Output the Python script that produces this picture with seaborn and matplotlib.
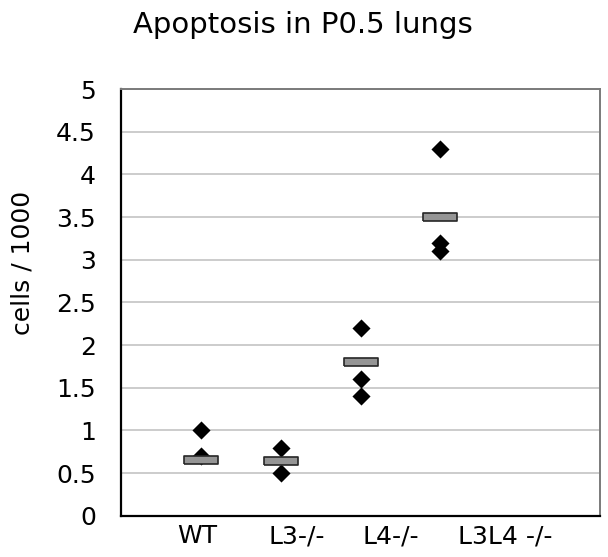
import numpy as np
import pandas as pd
import matplotlib
matplotlib.use("Agg")
import matplotlib.pyplot as plt
import seaborn as sns

# Individual animals (x = group position on the 0..6 axis)
point_x = [1, 1, 2, 2, 3, 3, 3, 4, 4, 4]
point_y = [1.0, 0.7, 0.8, 0.5, 2.2, 1.6, 1.4, 4.3, 3.2, 3.1]

# Group means
mean_x = [1, 2, 3, 4]
mean_y = [0.65, 0.64, 1.8, 3.5]

# Group labels and where they sit along the x axis (text boxes, not centred on data)
group_labels = ["WT", "L3-/-", "L4-/-", "L3L4 -/-"]
label_pos = [0.95, 2.2, 3.38, 4.81]

sns.set_style("white")
plt.rcParams["font.family"] = ["DejaVu Sans"]
plt.rcParams["text.color"] = "black"
plt.rcParams["xtick.labelcolor"] = "black"
plt.rcParams["ytick.labelcolor"] = "black"

fig = plt.figure(figsize=(6.08, 5.57), dpi=100)
ax = fig.add_axes([0.199, 0.074, 0.788, 0.766])

pts = pd.DataFrame({"x": point_x, "y": point_y})
means = pd.DataFrame({"x": mean_x, "y": mean_y})

# mean bars: flat grey rectangles with dark outline
bar_marker = [(-2.3, -0.5), (2.3, -0.5), (2.3, 0.5), (-2.3, 0.5), (-2.3, -0.5)]

sns.scatterplot(data=pts, x="x", y="y", marker="D", s=85, color="black",
                edgecolor="black", linewidth=0, ax=ax, zorder=3)
sns.scatterplot(data=means, x="x", y="y", marker=bar_marker, s=570,
                color="#959595", edgecolor="#262626", linewidth=1.2, ax=ax, zorder=4)

ax.set_xlim(0, 6)
ax.set_ylim(0, 5)
ax.set_yticks(np.arange(0, 5.01, 0.5))
ax.set_yticklabels(["0", "0.5", "1", "1.5", "2", "2.5", "3", "3.5", "4", "4.5", "5"])
ax.set_xticks([0, 2, 4, 6])
ax.set_xticklabels([])
ax.set_xticks(label_pos, minor=True)
ax.set_xticklabels(group_labels, minor=True)
ax.tick_params(axis="x", which="minor", length=0, pad=6, labelsize=18)
ax.tick_params(axis="x", which="major", length=6, width=1.5, direction="inout", color="black")
ax.tick_params(axis="y", length=6, width=1.5, direction="out", color="black", labelsize=18, pad=12)

ax.yaxis.grid(True, color="#c8c8c8", linewidth=1.3)
ax.set_axisbelow(True)

for side in ["left", "bottom"]:
    ax.spines[side].set_color("black")
    ax.spines[side].set_linewidth(1.6)
for side in ["top", "right"]:
    ax.spines[side].set_visible(True)
    ax.spines[side].set_color("#7a7a7a")
    ax.spines[side].set_linewidth(1.4)

ax.set_xlabel("")
ax.set_ylabel("")
fig.text(23 / 608, 1 - 263 / 557, "cells / 1000", fontsize=18, rotation=90,
         ha="center", va="center")
fig.text(0.4975, 1 - 33 / 557, "Apoptosis in P0.5 lungs", fontsize=21,
         ha="center", va="baseline")

fig.savefig("out.png", dpi=100)
